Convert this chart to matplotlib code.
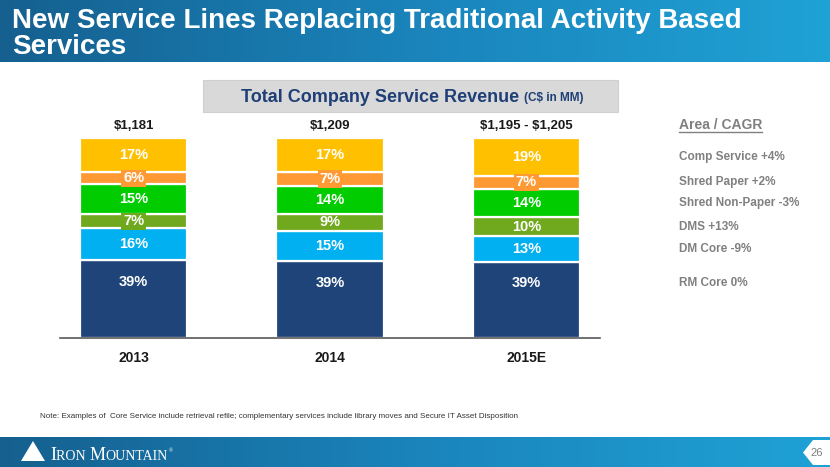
import numpy as np
import matplotlib
matplotlib.use('Agg')
import matplotlib.pyplot as plt
import matplotlib.transforms as mtransforms
from matplotlib import font_manager
from matplotlib.patches import Rectangle, Polygon
from matplotlib.colors import LinearSegmentedColormap

years = ['2013', '2014', '2015E']
totals = [r'\$1,181', r'\$1,209', r'\$1,195 - \$1,205']
segments = ['RM Core', 'DM Core', 'DMS', 'Shred Non-Paper', 'Shred Paper', 'Comp Service']
cagr = ['0%', '-9%', '+13%', '-3%', '+2%', '+4%']
rm_core = [39, 39, 39]
dm_core = [16, 15, 13]
dms = [7, 9, 10]
shred_non_paper = [15, 14, 14]
shred_paper = [6, 7, 7]
comp_service = [17, 17, 19]

colors = ['#1F4479', '#00B0F0', '#70A81E', '#00CC00', '#FF9933', '#FFC000']

names = {f.name for f in font_manager.fontManager.ttflist}
narrow = 'Liberation Sans Narrow' if 'Liberation Sans Narrow' in names else 'Liberation Sans'
plt.rcParams['font.family'] = [narrow, 'DejaVu Sans']

W, H = 830, 467
fig = plt.figure(figsize=(W / 100, H / 100), dpi=100)

def px(x, y):
    return x / W, 1 - y / H

# header / footer gradient bands
grad = LinearSegmentedColormap.from_list('band', ['#15608F', '#1A84BB', '#1FA2D6'])
bg = fig.add_axes([0, 0, 1, 1], zorder=-10)
bg.axis('off')
g = np.linspace(0, 1, 256).reshape(1, -1)
bg.imshow(g, cmap=grad, extent=[0, W, 62, 0], aspect='auto')
bg.imshow(g, cmap=grad, extent=[0, W, H, 437], aspect='auto')
bg.set_xlim(0, W)
bg.set_ylim(H, 0)

# title
fig.text(*px(12, 28), 'New Service Lines Replacing Traditional Activity Based',
         color='white', fontsize=20, fontweight='bold', va='baseline')
fig.text(*px(12, 54), 'Services', color='white', fontsize=20,
         fontweight='bold', va='baseline')

# subtitle box
bg.add_patch(Rectangle((203, 80), 415, 32, facecolor='#D9D9D9', edgecolor='#CFCFCF', lw=0.8))
t1 = bg.text(241, 97, 'Total Company Service Revenue ', color='#1F3F76', fontsize=13,
             fontweight='bold', va='center', ha='left')
fig.canvas.draw()
x_end = t1.get_window_extent().x1
bg.text(x_end, 98, '(C$ in MM)', color='#1F3F76', fontsize=8.5,
        fontweight='bold', va='center', ha='left',
        transform=mtransforms.blended_transform_factory(mtransforms.IdentityTransform(), bg.transData))

# chart
ax = fig.add_axes([60 / W, 1 - 338.3 / H, 540 / W, 200 / H])
stack = np.array([rm_core, dm_core, dms, shred_non_paper, shred_paper, comp_service], dtype=float)
share = stack / stack.sum(axis=0) * 100
x = np.arange(len(years))
bottom = np.zeros(len(years))
label_y = []
for i, seg in enumerate(segments):
    ax.bar(x, share[i], 0.547, bottom=bottom, color=colors[i], edgecolor='white', linewidth=1.6)
    ys = []
    for j in range(len(years)):
        frac = 0.72 if i == 0 else 0.5
        yy = bottom[j] + share[i][j] * frac
        ys.append(yy)
        box = None
        if stack[i][j] <= 7:
            box = dict(boxstyle='square,pad=0.12', facecolor=colors[i], edgecolor='none')
        ax.text(x[j], yy, f'{int(stack[i][j])}%', ha='center', va='center', color='white',
                fontsize=10.5, fontweight='bold', bbox=box, zorder=5)
    label_y.append(ys[-1])
    bottom = bottom + share[i]

for j in range(len(years)):
    ax.text(x[j], 106, totals[j], ha='center', va='center', fontsize=9.5,
            fontweight='bold', color='#1A1A1A')

ax.set_xlim(-0.375, 2.375)
ax.set_ylim(0, 100)
ax.set_xticks(x)
ax.set_xticklabels(years, fontsize=10, fontweight='bold', color='#1A1A1A')
ax.tick_params(axis='x', length=0, pad=9)
ax.set_yticks([])
for s in ['top', 'right', 'left']:
    ax.spines[s].set_visible(False)
ax.spines['bottom'].set_color('#595959')
ax.spines['bottom'].set_linewidth(1.2)

# area / CAGR labels
tr = mtransforms.blended_transform_factory(fig.transFigure, ax.transData)
for i, seg in enumerate(segments):
    ax.text(679 / W, label_y[i], f'{seg} {cagr[i]}', transform=tr, ha='left', va='center',
            fontsize=8.5, fontweight='bold', color='#808080')
hdr = fig.text(*px(679, 125), 'Area / CAGR', ha='left', va='center', fontsize=10,
               fontweight='bold', color='#808080')
fig.canvas.draw()
hb = hdr.get_window_extent()
bg.plot([679, 679 + hb.width], [132, 132], color='#808080', lw=1)

# note
fig.text(*px(40, 417), 'Note: Examples of  Core Service include retrieval refile; complementary services include library moves and Secure IT Asset Disposition',
         fontsize=5.8, color='#333333', va='center', family=['Liberation Sans', 'DejaVu Sans'])

# logo
bg.add_patch(Polygon([[21, 461], [33, 441], [45, 461]], closed=True, facecolor='white', edgecolor='none'))
serif = ['Liberation Serif', 'DejaVu Serif']
xx = 50
for txt, sz in [('I', 13), ('RON ', 10), ('M', 13), ('OUNTAIN', 10)]:
    t = bg.text(xx, 460, txt, fontsize=sz, color='white', family=serif, va='baseline', ha='left')
    fig.canvas.draw()
    xx += t.get_window_extent().width
bg.text(xx + 1, 452, '®', fontsize=4, color='white', family=serif, va='baseline')

# page number chevron
bg.add_patch(Polygon([[830, 440], [813, 440], [803, 452.5], [813, 465], [830, 465]],
                     closed=True, facecolor='white', edgecolor='none'))
bg.text(817, 453, '26', fontsize=8, color='#7F7F7F', ha='center', va='center')

fig.savefig('out.png', dpi=100)
